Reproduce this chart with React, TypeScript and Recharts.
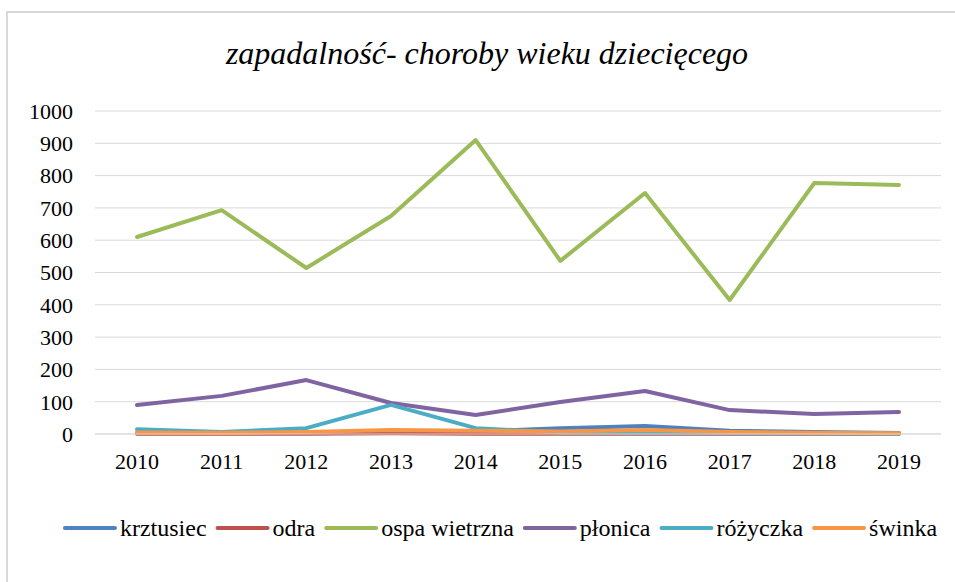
import React from "react";
import { LineChart, Line, XAxis, YAxis, CartesianGrid } from "recharts";

const years = ["2010", "2011", "2012", "2013", "2014", "2015", "2016", "2017", "2018", "2019"];
const krztusiec = [3, 4, 5, 5, 8, 18, 25, 10, 6, 3];
const odra = [1, 1, 1, 2, 1, 1, 1, 1, 1, 1];
const ospaWietrzna = [610, 693, 514, 675, 910, 536, 746, 415, 777, 771];
const plonica = [90, 118, 167, 96, 59, 99, 133, 74, 62, 68];
const rozyczka = [15, 6, 18, 90, 18, 5, 4, 3, 2, 1];
const swinka = [5, 4, 6, 12, 10, 8, 12, 6, 4, 2];
const yTicks = [0, 100, 200, 300, 400, 500, 600, 700, 800, 900, 1000];

const series = [
  { key: "krztusiec", name: "krztusiec", color: "#4F81BD", values: krztusiec },
  { key: "odra", name: "odra", color: "#C0504D", values: odra },
  { key: "ospa", name: "ospa wietrzna", color: "#9BBB59", values: ospaWietrzna },
  { key: "plonica", name: "płonica", color: "#8064A2", values: plonica },
  { key: "rozyczka", name: "różyczka", color: "#4BACC6", values: rozyczka },
  { key: "swinka", name: "świnka", color: "#F79646", values: swinka },
];

const data = years.map((year, i) => {
  const row: Record<string, string | number> = { year };
  series.forEach((s) => {
    row[s.key] = s.values[i];
  });
  return row;
});

const font = "Liberation Serif";
// Liberation Serif has no italic face here; Tinos is the same design with one
const italicFont = "Tinos";
const legendFontSize = 24;

// measure legend labels so the row can be centred like Excel does
function textWidth(text: string, size: number) {
  if (typeof document === "undefined") return text.length * size * 0.45;
  const ctx = document.createElement("canvas").getContext("2d");
  if (!ctx) return text.length * size * 0.45;
  ctx.font = `${size}px "${font}"`;
  return ctx.measureText(text).width;
}

function Overlay() {
  const lineW = 54;
  const lineGap = 3;
  const itemGap = 9;
  const widths = series.map((s) => textWidth(s.name, legendFontSize));
  const total = widths.reduce((a, w) => a + w + lineW + lineGap, 0) + itemGap * (series.length - 1);
  let x = 500 - total / 2;
  const items = series.map((s, i) => {
    const x0 = x;
    x += lineW + lineGap + widths[i] + itemGap;
    return (
      <g key={s.key}>
        <line x1={x0 + 2} x2={x0 + lineW - 2} y1={528} y2={528} stroke={s.color} strokeWidth={4} strokeLinecap="round" />
        <text x={x0 + lineW + lineGap} y={536} fontFamily={font} fontSize={legendFontSize} fill="#000">
          {s.name}
        </text>
      </g>
    );
  });
  return (
    <svg width={955} height={582} style={{ position: "absolute", left: 0, top: 0, pointerEvents: "none" }}>
      <text x={487} y={64} textAnchor="middle" fontFamily={italicFont} fontStyle="italic" fontSize={32} fill="#000">
        zapadalność- choroby wieku dziecięcego
      </text>
      {items}
    </svg>
  );
}

export default function App() {
  return (
    <div style={{ position: "absolute", left: 0, top: 0, width: 955, height: 582, background: "#fff", overflow: "hidden" }}>
      <div
        style={{
          position: "absolute",
          left: 6,
          top: 11,
          width: 960,
          height: 590,
          border: "2px solid #d9d9d9",
          boxSizing: "border-box",
        }}
      />
      <div style={{ position: "absolute", left: 0, top: 0 }}>
        <LineChart width={955} height={582} data={data} margin={{ top: 111, right: 14, bottom: 118, left: 0 }}>
          <CartesianGrid vertical={false} stroke="#d9d9d9" />
          <XAxis
            dataKey="year"
            axisLine={{ stroke: "#d9d9d9" }}
            tickLine={false}
            tickSize={0}
            tickMargin={19}
            padding={{ left: 42, right: 42 }}
            tick={{ fontFamily: font, fontSize: 22, fill: "#000" }}
            interval={0}
          />
          <YAxis
            width={95}
            domain={[0, 1000]}
            ticks={yTicks}
            interval={0}
            axisLine={false}
            tickLine={false}
            tickSize={0}
            tickMargin={22}
            tick={{ fontFamily: font, fontSize: 22, fill: "#000" }}
          />
          {series.map((s) => (
            <Line
              key={s.key}
              type="linear"
              dataKey={s.key}
              name={s.name}
              stroke={s.color}
              strokeWidth={4}
              dot={false}
              strokeLinecap="round"
              strokeLinejoin="round"
              isAnimationActive={false}
            />
          ))}
        </LineChart>
      </div>
      <Overlay />
    </div>
  );
}
